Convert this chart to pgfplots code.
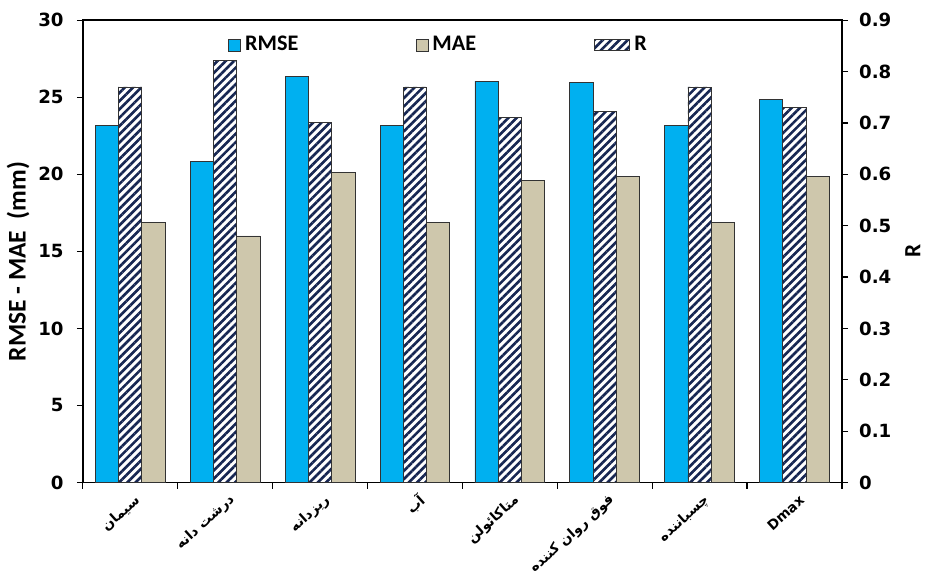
\documentclass[border=0pt]{standalone}
\usepackage{pgfplots}
\pgfplotsset{compat=1.18}
\usepackage{pgfplotstable}
\usepackage{fontspec}
\setmainfont{DejaVu Sans}
\newfontfamily\calfont{Carlito}
\newfontfamily\arabicfont[Script=Arabic]{DejaVu Sans}
\TeXXeTstate=1
\usetikzlibrary{patterns.meta}
\definecolor{rmsec}{RGB}{0,176,240}
\definecolor{maec}{RGB}{206,199,172}
\definecolor{navyc}{RGB}{22,38,82}
\pgfplotstableread{
x rmse mae r
0 23.15 16.85 0.770
1 20.85 16.00 0.822
2 26.35 20.10 0.701
3 23.15 16.85 0.770
4 26.05 19.60 0.711
5 25.95 19.85 0.722
6 23.15 16.85 0.770
7 24.85 19.85 0.731
}\data
\begin{document}
\begin{tikzpicture}
\pgfplotsset{
  every axis/.append style={
    scale only axis, width=376pt, height=229pt,
    xmin=-0.5, xmax=7.5,
    tick align=outside, major tick length=3pt,
    /pgf/number format/assume math mode=true,
    tick label style={font=\bfseries\fontsize{9}{9}\selectfont},
    axis line style={line width=0.9pt},
    every tick/.style={black, line width=0.6pt},
    legend image code/.code={\draw[#1] (0pt,-3pt) rectangle (6pt,3pt);},
  }
}
\begin{axis}[
  name=main,
  ymin=0, ymax=30, ytick={0,5,...,30},
  ytick pos=left, xtick pos=bottom,
  yticklabel style={xshift=-3pt},
  xtick={-0.5,0.5,...,7.5},
  x tick label as interval,
  xticklabels={
    {\arabicfont\bfseries\beginR سیمان\endR},
    {\arabicfont\bfseries\beginR درشت دانه\endR},
    {\arabicfont\bfseries\beginR ریزدانه\endR},
    {\arabicfont\bfseries\beginR آب\endR},
    {\arabicfont\bfseries\beginR متاکائولن\endR},
    {\arabicfont\bfseries\beginR فوق روان  کننده\endR},
    {\arabicfont\bfseries\beginR چسباننده\endR},
    {\bfseries Dmax}},
  x tick label style={rotate=42, anchor=east, font=\fontsize{6.8}{7}\selectfont, yshift=-6pt, xshift=3pt},
  ylabel={\calfont\bfseries RMSE - MAE\ \ (mm)},
  ylabel style={font=\fontsize{12.6}{13}\selectfont, yshift=-2.5pt, xshift=-5pt},
  legend style={at={(0.47,0.946)}, anchor=center, draw=none, fill=none,
    font=\calfont\bfseries\fontsize{11}{11}\selectfont,
    /tikz/every even column/.append style={column sep=56pt}},
  legend columns=3,
]
\addplot[ybar, bar width=0.245, bar shift=-0.245, fill=rmsec, draw=black!80, line width=0.4pt]
  table[x=x, y=rmse]{\data};
\addlegendentry{RMSE}
\addplot[ybar, bar width=0.245, bar shift=0.245, fill=maec, draw=black!80, line width=0.4pt]
  table[x=x, y=mae]{\data};
\addlegendentry{MAE}
\addlegendimage{area legend, draw=black!80, line width=0.4pt, pattern={Lines[angle=45,distance=2.9pt,line width=1.3pt]}, pattern color=navyc}
\addlegendentry{R}
\end{axis}
\begin{axis}[
  ymin=0, ymax=0.9, ytick={0,0.1,...,0.9},
  axis x line=none, axis y line*=right,
  yticklabel style={/pgf/number format/fixed, /pgf/number format/precision=1, xshift=2pt},
  ylabel={\calfont\bfseries R}, ylabel near ticks,
  ylabel style={font=\fontsize{11.5}{12}\selectfont},
]
\addplot[ybar, bar width=0.245, bar shift=0, draw=black!80, line width=0.4pt, pattern={Lines[angle=45,distance=2.9pt,line width=1.3pt]}, pattern color=navyc]
  table[x=x, y=r]{\data};
\end{axis}
\path ([yshift=10pt]main.north);
\end{tikzpicture}
\end{document}
